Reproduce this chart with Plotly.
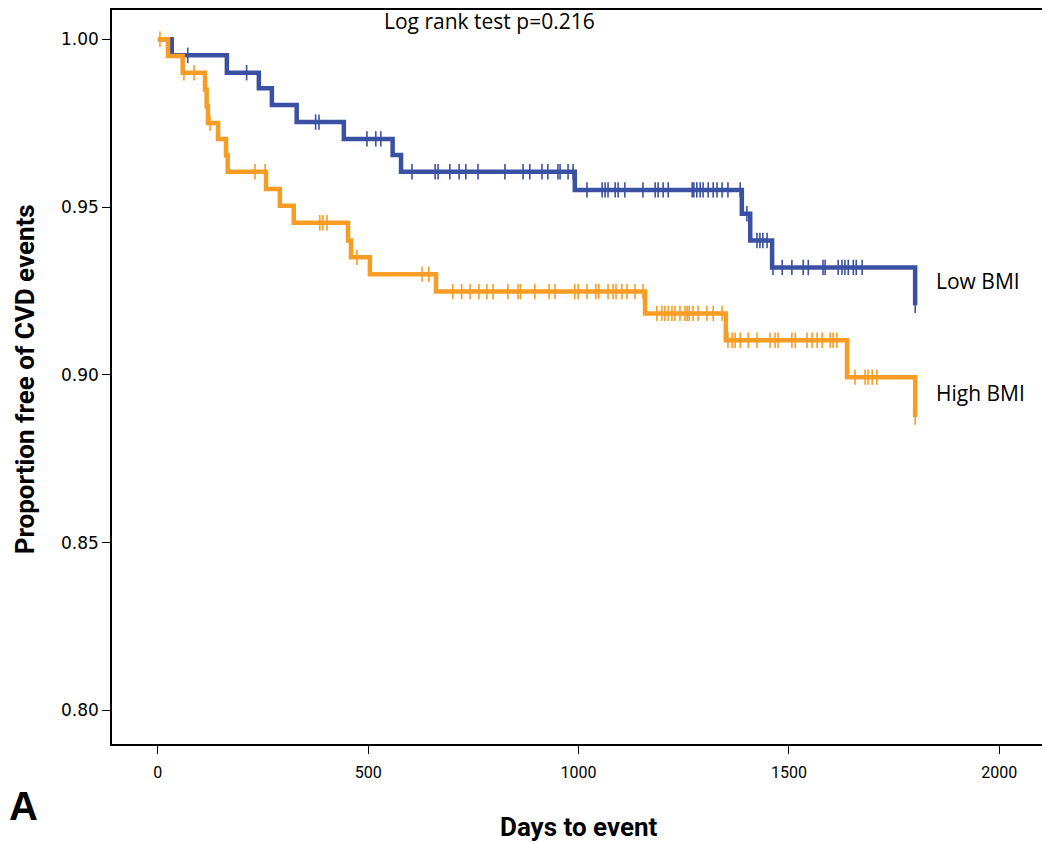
import plotly.graph_objects as go

# ---- data ----
low_event_t = [33, 164, 240, 271, 330, 442, 558, 578, 991, 1388, 1408, 1460, 1800]
low_event_s = [0.9952, 0.9900, 0.9854, 0.9804, 0.9753, 0.9703, 0.9655, 0.9605, 0.9551, 0.9480, 0.9400, 0.9320, 0.9207]
low_censor_t = [71, 211, 375, 383, 497, 518, 530, 604, 659, 666, 694, 716, 732, 761, 825, 868, 884,
                913, 927, 951, 956, 975, 987, 1020, 1056, 1063, 1070, 1087, 1094, 1110, 1153, 1182,
                1189, 1201, 1213, 1270, 1274, 1281, 1289, 1296, 1308, 1320, 1329, 1341, 1355, 1384,
                1400, 1424, 1431, 1438, 1448, 1462, 1484, 1507, 1534, 1546, 1581, 1586, 1617, 1626,
                1633, 1641, 1653, 1660, 1674, 1800]

high_event_t = [24, 59, 112, 116, 119, 143, 162, 166, 257, 290, 323, 452, 459, 504, 661, 1158, 1350, 1638, 1800]
high_event_s = [0.9950, 0.9900, 0.9850, 0.9800, 0.9750, 0.9703, 0.9654, 0.9605, 0.9554, 0.9504, 0.9453,
                0.9400, 0.9350, 0.9300, 0.9248, 0.9183, 0.9103, 0.8993, 0.8874]
high_censor_t = [5, 62, 86, 124, 231, 255, 385, 392, 402, 473, 628, 644, 701, 722, 742, 763, 782, 797,
                 832, 856, 862, 896, 930, 944, 991, 999, 1020, 1041, 1048, 1070, 1082, 1089, 1103, 1115,
                 1134, 1153, 1186, 1198, 1205, 1213, 1222, 1229, 1241, 1253, 1258, 1263, 1272, 1284,
                 1305, 1320, 1341, 1355, 1365, 1372, 1384, 1403, 1424, 1455, 1467, 1474, 1507, 1515,
                 1543, 1555, 1567, 1579, 1598, 1605, 1614, 1657, 1681, 1688, 1698, 1709, 1800]

x_ticks = [0, 500, 1000, 1500, 2000]
y_ticks = [0.80, 0.85, 0.90, 0.95, 1.00]

BLUE = "#3a51a3"
ORANGE = "#f89c23"


def step_xy(ev_t, ev_s):
    return [0] + list(ev_t), [1.0] + list(ev_s)


def surv_at(t, ev_t, ev_s):
    s = 1.0
    for et, es in zip(ev_t, ev_s):
        if et <= t:
            s = es
    return s


fig = go.Figure()
for ev_t, ev_s, cens, col in [(low_event_t, low_event_s, low_censor_t, BLUE),
                              (high_event_t, high_event_s, high_censor_t, ORANGE)]:
    xs, ys = step_xy(ev_t, ev_s)
    fig.add_trace(go.Scatter(x=xs, y=ys, mode="lines", line=dict(color=col, width=4.5, shape="hv"),
                             showlegend=False, hoverinfo="skip"))
    fig.add_trace(go.Scatter(x=cens, y=[surv_at(t, ev_t, ev_s) for t in cens], mode="markers",
                             marker=dict(symbol="line-ns", size=11, line=dict(color=col, width=1.6)),
                             showlegend=False, hoverinfo="skip"))

FONT = "Open Sans, DejaVu Sans, sans-serif"
NARROW = "Liberation Sans Narrow, Arial Narrow, Roboto, sans-serif"

fig.update_layout(
    width=1042, height=834,
    margin=dict(l=104, r=4, t=0, b=98),
    paper_bgcolor="white", plot_bgcolor="white",
    xaxis=dict(range=[-109, 2111], tickvals=x_ticks, ticktext=[str(v) for v in x_ticks],
               showgrid=False, zeroline=False, showline=True, mirror=True, linecolor="black",
               linewidth=1.5, ticks="outside", ticklen=8, tickcolor="black", tickwidth=1.2,
               ticklabelstandoff=5,
               tickfont=dict(family=NARROW, size=16, color="black")),
    yaxis=dict(range=[0.7900, 1.0087], tickvals=y_ticks, ticktext=["%.2f" % v for v in y_ticks],
               showgrid=False, zeroline=False, showline=True, mirror=True, linecolor="black",
               linewidth=1.5, ticks="outside", ticklen=8, tickcolor="black", tickwidth=1.2,
               tickfont=dict(family="DejaVu Sans, sans-serif", size=17, color="black")),
    annotations=[
        dict(text="Log rank test p=0.216", x=789, y=1.0, xref="x", yref="paper", yshift=5,
             showarrow=False, font=dict(family=FONT, size=21, color="black"),
             xanchor="center", yanchor="top"),
        dict(text="Low BMI", x=1845, y=0.928, xref="x", yref="y", showarrow=False,
             font=dict(family=FONT, size=21, color="black"), xanchor="left", yanchor="middle"),
        dict(text="High BMI", x=1845, y=0.8945, xref="x", yref="y", showarrow=False,
             font=dict(family=FONT, size=21, color="black"), xanchor="left", yanchor="middle"),
        dict(text="<b>Days to event</b>", x=1000, y=-0.113, xref="x", yref="paper", showarrow=False,
             font=dict(family=NARROW, size=26, color="black"), xanchor="center", yanchor="middle"),
        dict(text="<b>Proportion free of CVD events</b>", x=-0.093, y=0.497, xref="paper", yref="paper",
             showarrow=False, textangle=-90,
             font=dict(family=NARROW, size=26, color="black"), xanchor="center", yanchor="middle"),
        dict(text="<b>A</b>", x=-0.1125, y=-0.084, xref="paper", yref="paper", showarrow=False,
             font=dict(family="Liberation Sans, Arial, sans-serif", size=40, color="black"),
             xanchor="left", yanchor="middle"),
    ],
)

fig.write_html("out.html")
